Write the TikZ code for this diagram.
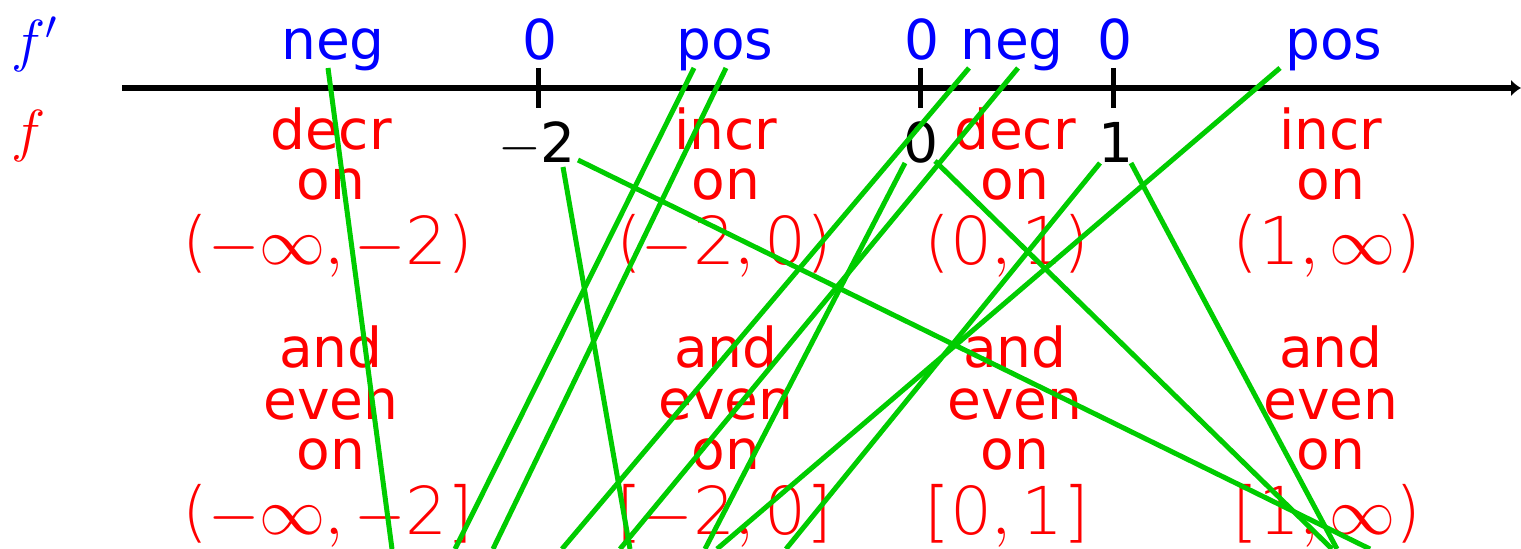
\RequirePackage{fix-cm}
\documentclass[tikz,border=0pt]{standalone}
\usepackage{fontspec}
\setmainfont{DejaVu Sans}
\newfontfamily\thinsans{DejaVu Sans ExtraLight}
\usetikzlibrary{arrows.meta,calc}
\definecolor{lg}{RGB}{0,204,0}
\tikzset{
  wd/.style={font=\fontsize{27.5}{27.5}\selectfont, inner sep=0pt, anchor=base},
  blu/.style={wd, text=blue},
  redw/.style={wd, text=red},
  blk/.style={wd, text=black},
  mth/.style={font=\fontsize{33}{33}\selectfont\thinsans, inner sep=0pt, anchor=base, text=red},
  fl/.style={font=\fontsize{29}{29}\selectfont, inner sep=0pt, anchor=base west},
  link/.style={draw=lg, line width=2.5pt},
  tickmark/.style={line width=2.5pt},
  axisline/.style={line width=3pt, -{Latex[length=5pt,width=8.5pt]}}
}
\begin{document}
\begin{tikzpicture}[x=0.5pt,y=-0.5pt]
\useasboundingbox (0,0) rectangle (1521,549);
% axis
\coordinate (a0) at (122,88);
\coordinate (a1) at (1521,88);
\draw[axisline] (a0) -- (a1);
\foreach \t/\x in {t1/538,t2/920,t3/1113}{
  \coordinate (\t u) at (\x,68);
  \coordinate (\t d) at (\x,108);
  \draw[tickmark] (\t u) -- (\t d);
}
% left labels
\node[fl, text=blue] (fp) at (11,61) {$f'$};
\node[fl, text=red] (ff) at (11,151) {$f$};
% top labels
\node[blu] (n1) at (333,60) {neg};
\node[blu] (z1) at (540,60) {0};
\node[blu] (p1) at (725,60) {pos};
\node[blu] (z2) at (922,60) {0};
\node[blu] (n2) at (1012,60) {neg};
\node[blu] (z3) at (1115,60) {0};
\node[blu] (p2) at (1334,60) {pos};
% black labels
\node[blk] (m2) at (537,163) {$-$2};
\node[blk] (k0) at (921,163) {0};
\node[blk] (k1) at (1116,163) {1};
% red columns
\foreach \i/\x/\w/\p/\q in {1/328/decr/{($-\infty,-$2)}/{($-\infty,-$2]},
                           2/724/incr/{($-$2$,\,$0)}/{[$-$2$,\,$0]},
                           3/1007/decr/{(0$,\,$1)}/{[0$,\,$1]},
                           4/1327/incr/{(1$,\infty$)}/{[1$,\infty$)}}{
  \node[mth]  (r\i-c) at (\x,265) {\p};
  \node[mth]  (r\i-g) at (\x,535) {\q};
}
\foreach \i/\x/\w in {1/331/decr, 2/726/incr, 3/1015/decr, 4/1331/incr}{
  \node[redw] (r\i-a) at (\x,150) {\w};
  \node[redw] (r\i-b) at (\x,200) {on};
  \node[redw] (r\i-d) at (\x,368) {and};
  \node[redw] (r\i-e) at (\x,420) {even};
  \node[redw] (r\i-f) at (\x,470) {on};
}
% free ends below
\foreach \e/\x in {e1/392,e2/455,e3/493,e4/562,e5/620,e6/717,e7/1370,e8/630,e9/705,e10/1332,e11/786,e12/1337}{
  \coordinate (\e) at (\x,549);
}
% green connectors
\draw[link] ([shift={(-5,8)}]n1.base) -- (e1);
\draw[link] ([shift={(-31,8)}]p1.base) -- (e2);
\draw[link] ([shift={(1,8)}]p1.base) -- (e3);
\draw[link] ([shift={(-43,8)}]n2.base) -- (e4);
\draw[link] ([shift={(6,8)}]n2.base) -- (e5);
\draw[link] ([shift={(-54,8)}]p2.base) -- (e6);
\draw[link] ([shift={(41,-3)}]m2.base) -- (e7);
\draw[link] ([shift={(26,4)}]m2.base) -- (e8);
\draw[link] ([shift={(-16,0)}]k0.base) -- (e9);
\draw[link] ([shift={(14,-2)}]k0.base) -- (e10);
\draw[link] ([shift={(-16,0)}]k1.base) -- (e11);
\draw[link] ([shift={(15,0)}]k1.base) -- (e12);
\end{tikzpicture}
\end{document}
